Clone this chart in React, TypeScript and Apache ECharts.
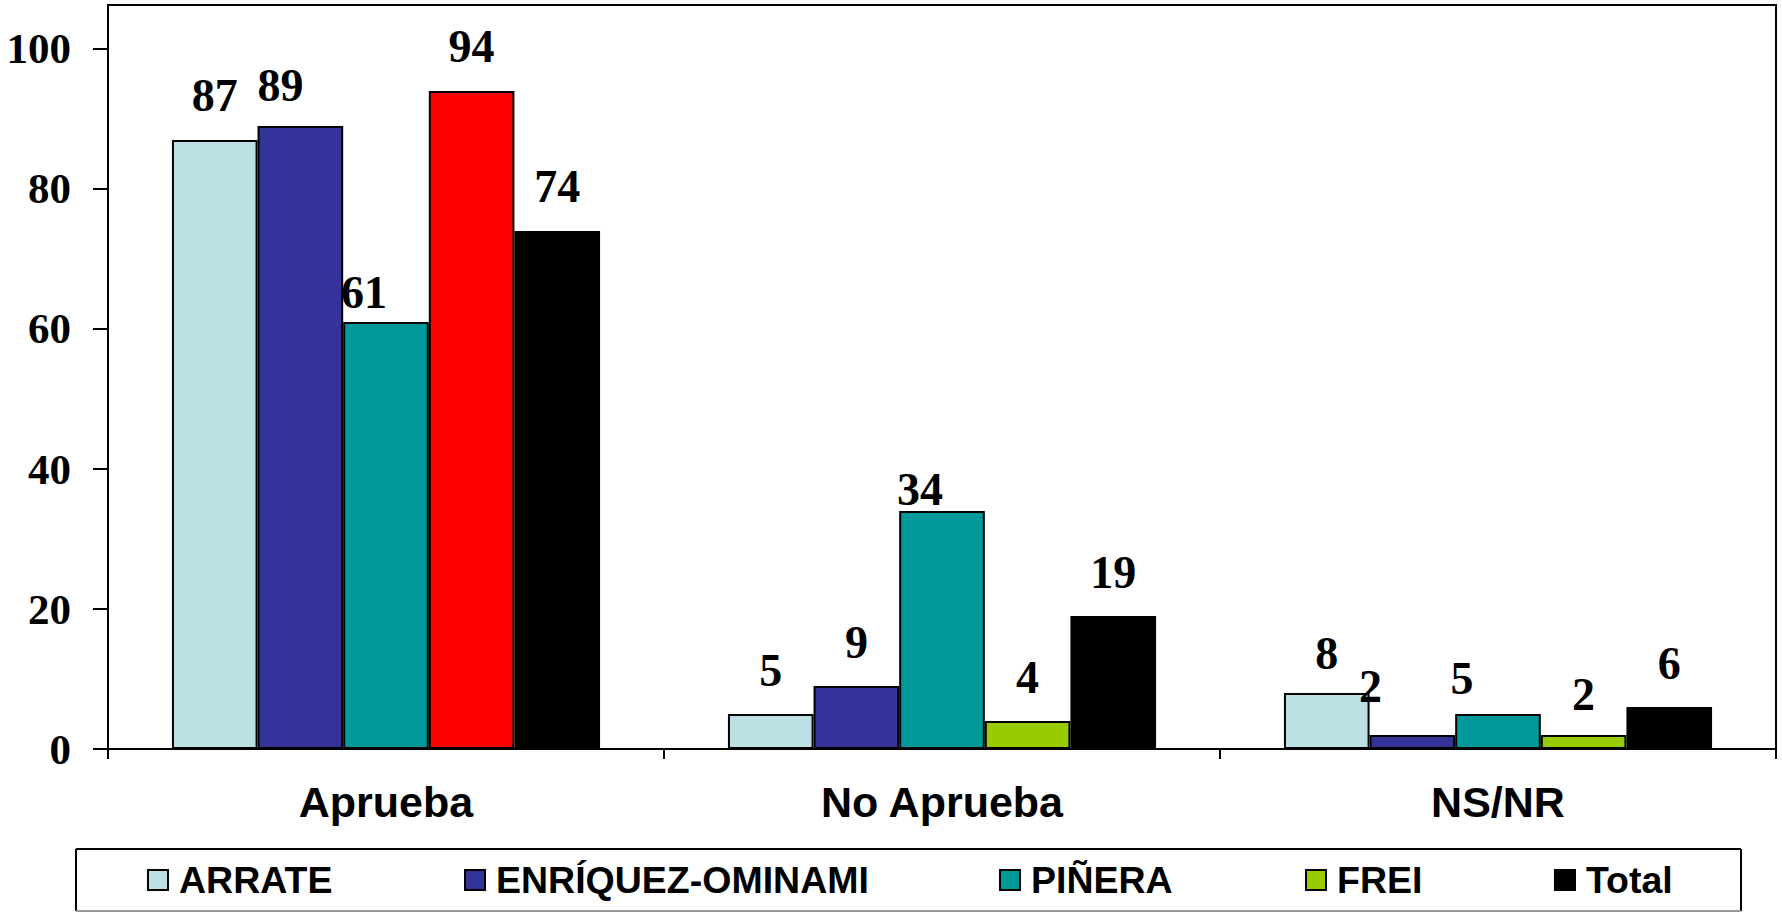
import React, { useEffect, useRef } from "react";
import * as echarts from "echarts";

const categories = ["Aprueba", "No Aprueba", "NS/NR"];
const seriesNames = ["ARRATE", "ENRÍQUEZ-OMINAMI", "PIÑERA", "FREI", "Total"];
const arrate = [87, 5, 8];
const enriquez = [89, 9, 2];
const pinera = [61, 34, 5];
const frei = [94, 4, 2];
const total = [74, 19, 6];
const seriesValues = [arrate, enriquez, pinera, frei, total];
const seriesColors = ["#BCE0E3", "#333399", "#009999", "#99CC00", "#000000"];
// Single data point recoloured in the original (FREI in "Aprueba")
const pointColorOverrides: { series: number; category: number; color: string }[] = [
  { series: 3, category: 0, color: "#FF0000" },
];
const yTicks = [0, 20, 40, 60, 80, 100];
const yMax = 106.2857;

// label nudges [dx, dy] for labels that the original moved
const labelNudges: { series: number; category: number; offset: [number, number] }[] = [
  { series: 1, category: 0, offset: [-20, 4] },
  { series: 2, category: 0, offset: [-22, 15] },
  { series: 2, category: 1, offset: [-22, 22] },
  { series: 0, category: 2, offset: [0, 4] },
  { series: 1, category: 2, offset: [-42, -5] },
  { series: 2, category: 2, offset: [-36, 8] },
  { series: 3, category: 2, offset: [0, 3] },
];

const legendLefts = [147, 464, 999, 1305, 1554];

export default function App() {
  const ref = useRef<HTMLDivElement>(null);
  useEffect(() => {
    document.body.style.margin = "0";
    if (!ref.current) return;
    const chart = echarts.init(ref.current, null, { renderer: "svg" });
    const serif = "'Liberation Serif', 'Times New Roman', serif";
    const sans = "'Liberation Sans', Arial, sans-serif";

    const series = seriesNames.map((name, si) => ({
      name,
      type: "bar",
      barGap: "0%",
      barCategoryGap: "23%",
      itemStyle: { color: seriesColors[si], borderColor: "#000", borderWidth: 2 },
      label: {
        show: true,
        position: "top",
        distance: 21,
        fontFamily: serif,
        fontWeight: "bold",
        fontSize: 46,
        color: "#000",
      },
      data: seriesValues[si].map((v, ci) => {
        const item: any = { value: v };
        const ov = pointColorOverrides.find((o) => o.series === si && o.category === ci);
        if (ov) item.itemStyle = { color: ov.color };
        const nudge = labelNudges.find((o) => o.series === si && o.category === ci);
        if (nudge) item.label = { offset: nudge.offset };
        return item;
      }),
    }));

    const legends = seriesNames.map((name, i) => ({
      data: [name],
      left: legendLefts[i],
      top: 860,
      padding: 0,
      itemWidth: 20,
      itemHeight: 20,
      icon: "rect",
      selectedMode: false,
      itemStyle: { borderColor: "#000", borderWidth: 2 },
      textStyle: {
        fontFamily: sans,
        fontWeight: "bold",
        fontSize: 37.5,
        lineHeight: 40,
        padding: [0, 0, 0, 6],
        color: "#000",
      },
    }));

    chart.setOption({
      animation: false,
      backgroundColor: "#fff",
      grid: {
        left: 108,
        right: 6,
        top: 5,
        bottom: 163,
        show: true,
        borderColor: "#000",
        borderWidth: 2,
        backgroundColor: "transparent",
      },
      legend: legends,
      xAxis: {
        type: "category",
        data: categories,
        boundaryGap: true,
        axisLine: { lineStyle: { color: "#000", width: 2 } },
        axisTick: { show: true, length: 10, interval: 0, lineStyle: { color: "#000", width: 2 } },
        axisLabel: {
          margin: 31,
          fontFamily: sans,
          fontWeight: "bold",
          fontSize: 43,
          color: "#000",
          interval: 0,
        },
      },
      yAxis: {
        type: "value",
        min: 0,
        max: yMax,
        splitLine: { show: false },
        axisLine: { show: true, lineStyle: { color: "#000", width: 2 } },
        axisTick: {
          show: true,
          length: 15,
          customValues: yTicks,
          lineStyle: { color: "#000", width: 2 },
        },
        axisLabel: {
          customValues: yTicks,
          margin: 37,
          fontFamily: serif,
          fontWeight: "bold",
          fontSize: 43,
          color: "#000",
        },
      },
      graphic: [
        { type: "line", shape: { x1: 76, y1: 849, x2: 1741, y2: 849 }, style: { stroke: "#000", lineWidth: 2 } },
        { type: "line", shape: { x1: 76, y1: 849, x2: 76, y2: 911 }, style: { stroke: "#000", lineWidth: 2 } },
        { type: "line", shape: { x1: 1741, y1: 849, x2: 1741, y2: 911 }, style: { stroke: "#000", lineWidth: 2 } },
        { type: "line", shape: { x1: 76, y1: 911, x2: 1741, y2: 911 }, style: { stroke: "#999", lineWidth: 2 } },
      ],
      series,
    });
    return () => chart.dispose();
  }, []);
  return <div ref={ref} style={{ width: 1782, height: 912 }} />;
}
